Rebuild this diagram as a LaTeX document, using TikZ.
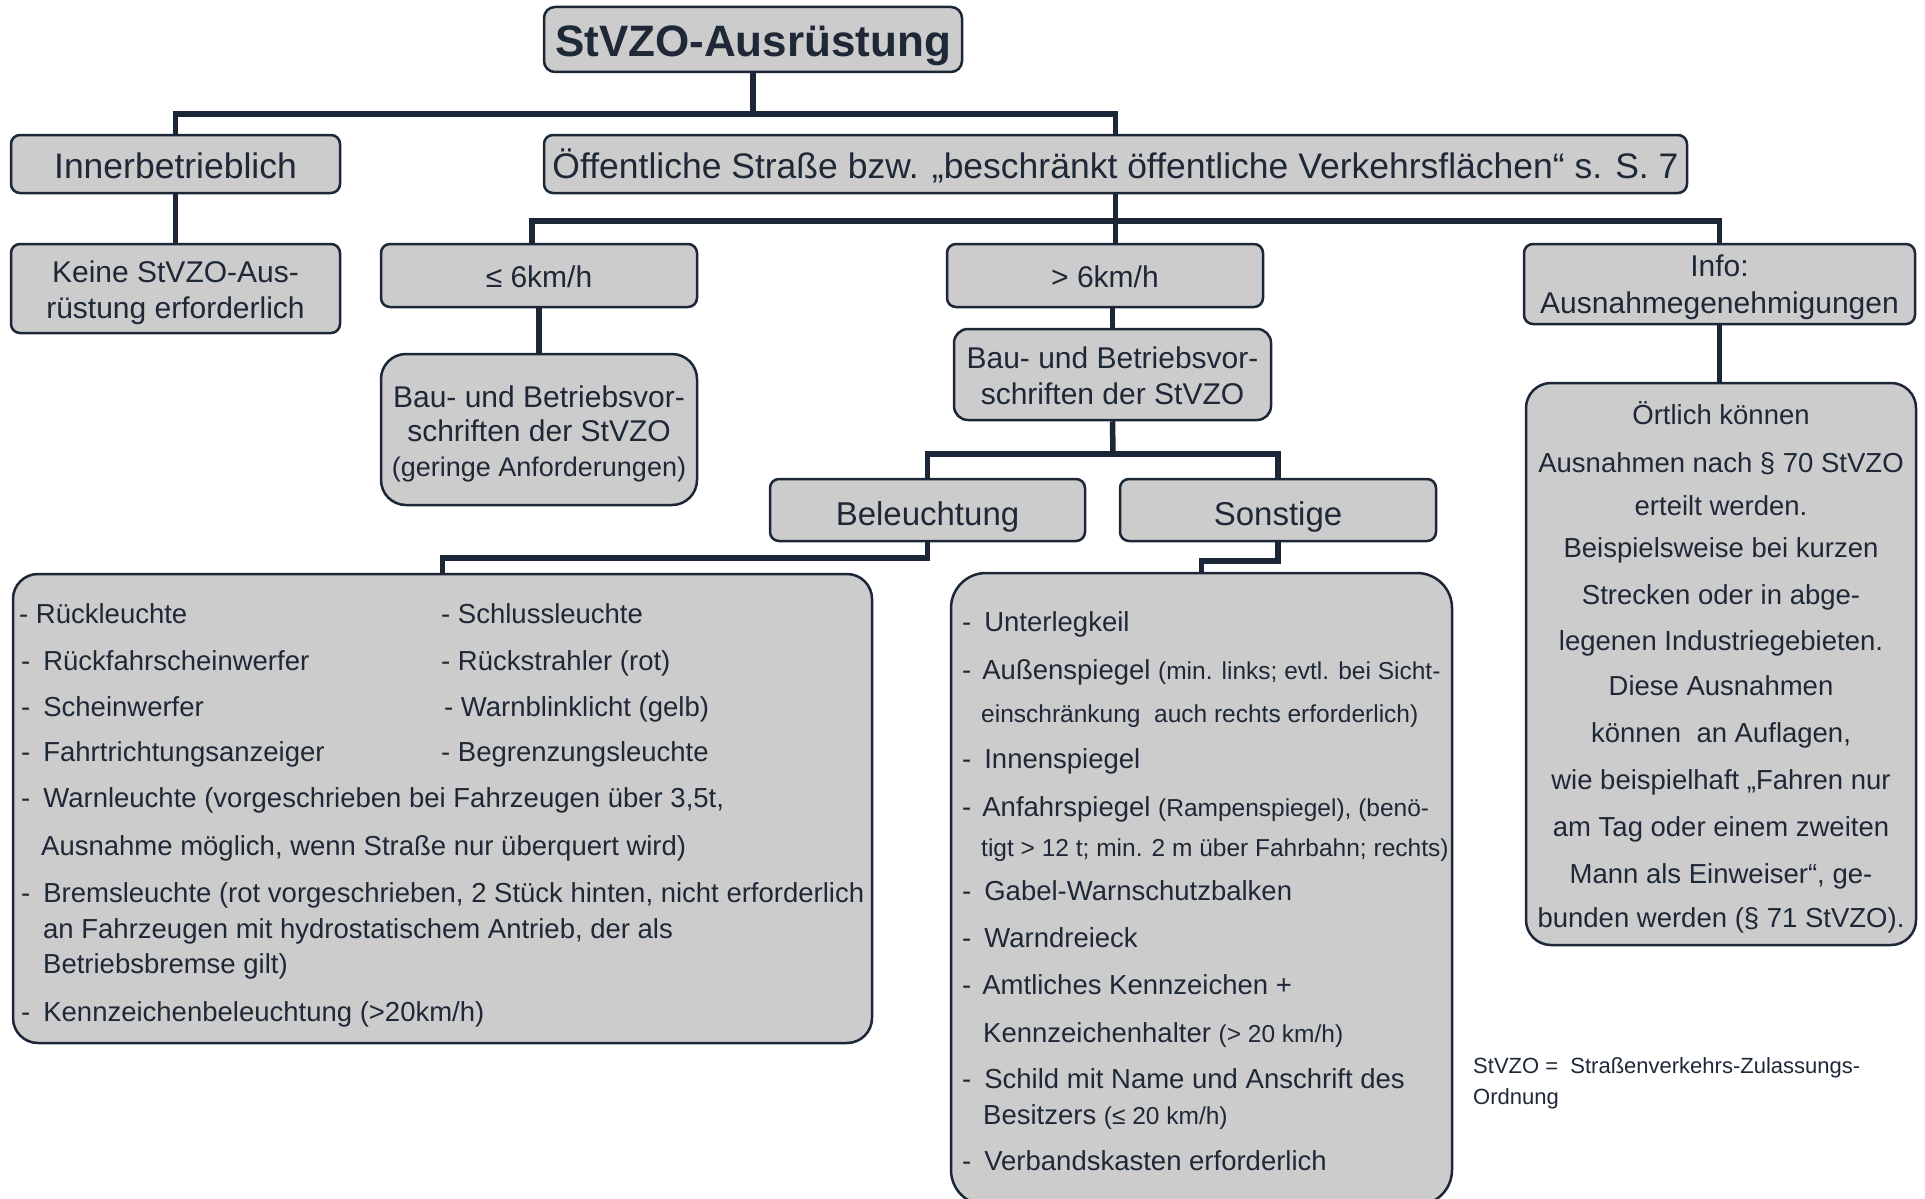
\documentclass[tikz,border=0pt]{standalone}
\usepackage{fontspec}
\setmainfont{Liberation Sans}
\usetikzlibrary{calc}
\definecolor{fc}{RGB}{204,204,204}
\definecolor{lc}{RGB}{27,38,54}
\definecolor{tc}{RGB}{30,40,55}
\newcommand{\ftitle}{\fontsize{44}{52}\selectfont\bfseries}
\newcommand{\fhead}{\fontsize{35.5}{42}\selectfont}
\newcommand{\fmid}{\fontsize{30}{36}\selectfont}
\newcommand{\fbel}{\fontsize{33}{40}\selectfont}
\newcommand{\flist}{\fontsize{27.5}{33}\selectfont}
\newcommand{\fsmall}{\fontsize{24.5}{30}\selectfont}
\newcommand{\ffoot}{\fontsize{22}{30}\selectfont}
% struts: top of first line / bottom of last line
\newcommand{\topstr}[1]{\rule{0pt}{#1pt}}
\newcommand{\botstr}[1]{\rule[-#1pt]{0pt}{#1pt}}
\begin{document}
\begin{tikzpicture}[x=1pt,y=-1pt,
  box/.style={draw=lc, fill=fc, line width=2.5pt, rounded corners=9pt, text=tc, align=center, inner sep=0pt},
  conn/.style={draw=lc, line width=5.5pt},
  lt/.style={anchor=base west, inner sep=0pt, text=tc, font=\flist},
  ct/.style={anchor=base, inner sep=0pt, text=tc, font=\flist}]
\useasboundingbox (0,0) rectangle (1925,1199);

% boxes
\node[box, minimum width=418pt, minimum height=65pt, font=\ftitle, rounded corners=11pt] (title) at (753,39.5) {\topstr{45}StVZO-Ausrüstung\botstr{10}};
\node[box, minimum width=329pt, minimum height=58pt, font=\fhead] (inner) at (175.5,164) {\topstr{36}Innerbetrieblich\botstr{8}};
\node[box, minimum width=1143pt, minimum height=58pt, font=\fhead] (oeff) at (1115.5,164) {\topstr{36}Öffentliche Straße bzw. „beschränkt öffentliche Verkehrsflächen“ s. S. 7\botstr{8}};
\node[box, minimum width=329pt, minimum height=89pt, font=\fontsize{30}{35.7}\selectfont] (keine) at (175.5,288.5) {\topstr{32.5}Keine StVZO-Aus-\\rüstung erforderlich\botstr{8}};
\node[box, minimum width=316pt, minimum height=63pt, font=\fmid] (le6) at (539,275.5) {\topstr{32.6}≤ 6km/h\botstr{8}};
\node[box, minimum width=316pt, minimum height=63pt, font=\fmid] (gt6) at (1105,275.5) {\topstr{32.6}> 6km/h\botstr{8}};
\node[box, minimum width=391pt, minimum height=80pt, font=\fontsize{30}{36.8}\selectfont] (info) at (1719.5,284) {\topstr{30.4}Info:\\Ausnahmegenehmigungen\botstr{8}};
\node[box, minimum width=316pt, minimum height=151pt, font=\fontsize{30}{34.5}\selectfont, rounded corners=25pt] (bau1) at (539,429.5) {\topstr{32}Bau- und Betriebsvor-\\schriften der StVZO\\{\fontsize{27}{34.5}\selectfont (geringe Anforderungen)}\botstr{8}};
\node[box, minimum width=317pt, minimum height=91pt, font=\fontsize{30}{35.6}\selectfont, rounded corners=14pt] (bau2) at (1112.5,374.5) {\topstr{32.4}Bau- und Betriebsvor-\\schriften der StVZO\botstr{8}};
\node[box, minimum width=315pt, minimum height=62pt, font=\fbel] (bel) at (927.5,510) {\topstr{39.6}Beleuchtung\botstr{8}};
\node[box, minimum width=316pt, minimum height=62pt, font=\fbel] (son) at (1278,510) {\topstr{39.6}Sonstige\botstr{8}};
\node[box, minimum width=859pt, minimum height=469pt, rounded corners=25pt] (listL) at (442.5,808.5) {};
\node[box, minimum width=501pt, minimum height=632pt, rounded corners=35pt] (listR) at (1201.5,889) {};
\node[box, minimum width=390pt, minimum height=562pt, rounded corners=25pt] (infoD) at (1721,664) {};

% junctions
\coordinate (j1) at (753,114);
\coordinate (j2) at (1115.5,221);
\coordinate (j3) at (1113,454);
\coordinate (j4) at (442.5,558);
\coordinate (j5) at (1201.5,561);

% connectors
\draw[conn] (title.south) -- (j1);
\draw[conn] (inner.north) |- (j1) -| (oeff.north);
\draw[conn] (inner.south) -- (keine.north);
\draw[conn] (oeff.south) -- (oeff.south |- gt6.north);
\draw[conn] ([xshift=-7pt]le6.north) |- (j2) -| (info.north);
\draw[conn] (le6.south) -- (bau1.north);
\draw[conn] (bau2.north) -- (bau2.north |- gt6.south);
\draw[conn] (bau2.south) -- (j3);
\draw[conn] (bel.north) |- (j3) -| (son.north);
\draw[conn] (bel.south) |- (j4) -- (listL.north);
\draw[conn] (son.south) |- (j5) -- (listR.north);
\draw[conn] (info.south) -- (info.south |- infoD.north);

% left list
\node[lt] (a1) at (19,623) {- Rückleuchte};
\node[lt] (b1) at (441,623) {- Schlussleuchte};
\node[lt] (a2) at (21,670) {-\hspace{13pt}Rückfahrscheinwerfer};
\node[lt] (b2) at (441,670) {- Rückstrahler (rot)};
\node[lt] (a3) at (21,716.5) {-\hspace{13pt}Scheinwerfer};
\node[lt] (b3) at (444,716.5) {- Warnblinklicht (gelb)};
\node[lt] (a4) at (21,761) {-\hspace{13pt}Fahrtrichtungsanzeiger};
\node[lt] (b4) at (441,761) {- Begrenzungsleuchte};
\node[lt] (a5) at (21,807) {-\hspace{13pt}Warnleuchte (vorgeschrieben bei Fahrzeugen über 3,5t,};
\node[lt] (a6) at (41,855) {Ausnahme möglich, wenn Straße nur überquert wird)};
\node[lt] (a7) at (21,902) {-\hspace{13pt}Bremsleuchte (rot vorgeschrieben, 2 Stück hinten, nicht erforderlich};
\node[lt] (a8) at (43,938.5) {an Fahrzeugen mit hydrostatischem Antrieb, der als};
\node[lt] (a9) at (43,973.5) {Betriebsbremse gilt)};
\node[lt] (a10) at (21,1021.5) {-\hspace{13pt}Kennzeichenbeleuchtung (>20km/h)};

% right list
\node[lt] (r1) at (962,631.5) {-\hspace{13pt}Unterlegkeil};
\node[lt] (r2) at (962,679.5) {-\hspace{11pt}Außenspiegel {\fsmall (min. links; evtl. bei Sicht-}};
\node[lt, font=\fsmall] (r3) at (981,722.5) {einschränkung\ \ auch rechts erforderlich)};
\node[lt] (r4) at (962,768.5) {-\hspace{13pt}Innenspiegel};
\node[lt] (r5) at (962,816.5) {-\hspace{11pt}Anfahrspiegel {\fsmall (Rampenspiegel), (benö-}};
\node[lt, font=\fsmall] (r6) at (981,856.5) {tigt > 12 t; min. 2 m über Fahrbahn; rechts)};
\node[lt] (r7) at (962,900.5) {-\hspace{13pt}Gabel-Warnschutzbalken};
\node[lt] (r8) at (962,947.5) {-\hspace{13pt}Warndreieck};
\node[lt] (r9) at (962,994.5) {-\hspace{11pt}Amtliches Kennzeichen +};
\node[lt] (r10) at (983,1042.5) {Kennzeichenhalter {\fsmall (> 20 km/h)}};
\node[lt] (r11) at (962,1088.5) {-\hspace{13pt}Schild mit Name und Anschrift des};
\node[lt] (r12) at (983,1124.5) {Besitzers {\fsmall (≤ 20 km/h)}};
\node[lt] (r13) at (962,1170.5) {-\hspace{13pt}Verbandskasten erforderlich};

% info text
\node[ct] (i1) at (1721,424.5) {Örtlich können};
\node[ct] (i2) at (1721,472.5) {Ausnahmen nach § 70 StVZO};
\node[ct] (i3) at (1721,515.5) {erteilt werden.};
\node[ct] (i4) at (1721,557.5) {Beispielsweise bei kurzen};
\node[ct] (i5) at (1721,604.5) {Strecken oder in abge-};
\node[ct] (i6) at (1721,650.5) {legenen Industriegebieten.};
\node[ct] (i7) at (1721,695.5) {Diese Ausnahmen};
\node[ct] (i8) at (1721,742.5) {können\ \ an Auflagen,};
\node[ct] (i9) at (1721,789.5) {wie beispielhaft „Fahren nur};
\node[ct] (i10) at (1721,836.5) {am Tag oder einem zweiten};
\node[ct] (i11) at (1721,883.5) {Mann als Einweiser“, ge-};
\node[ct] (i12) at (1721,927.5) {bunden werden (§ 71 StVZO).};

% footnote
\node[lt, font=\ffoot] (f1) at (1473,1073) {StVZO =\ \ Straßenverkehrs-Zulassungs-};
\node[lt, font=\ffoot] (f2) at (1473,1104) {Ordnung};
\end{tikzpicture}
\end{document}
